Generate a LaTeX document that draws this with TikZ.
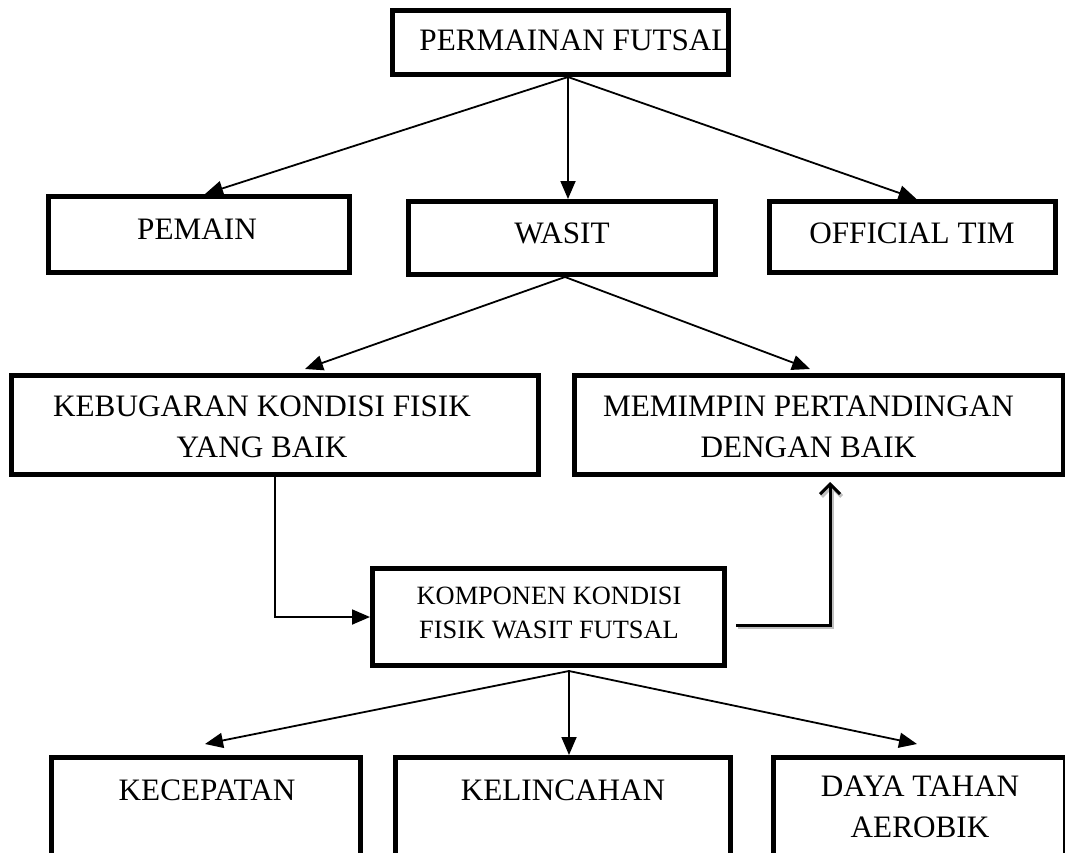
\documentclass[tikz,border=0pt]{standalone}
\usepackage{fontspec}
\setmainfont{Liberation Serif}
\usetikzlibrary{arrows.meta,calc}

\tikzset{
	kotak/.style={draw,line width=2.5pt,inner sep=0pt},
	teks/.style={align=center,inner sep=0pt,font=\fontsize{15.6}{20.5}\selectfont},
	panah/.style={line width=.9pt,-{Triangle[length=9pt,width=7.5pt]}},
	panahbuka/.style={line width=1.5pt,-{Straight Barb[length=5pt,width=10pt]},
		preaction={draw=black!25,line width=2pt,transform canvas={shift={(.8pt,-.8pt)}}}}
}

\begin{document}
\begin{tikzpicture}[x=.5pt,y=-.5pt]
		\useasboundingbox (0,0) rectangle (1065,852);
		\clip (0,0) rectangle (1065,852);
		% kotak: nama/x/y/lebar/tinggi
		\foreach \n/\x/\y/\w/\h in {futsal/560.5/42.5/336/64,pemain/199/234.5/301/76,wasit/562/238/307/73,official/912.5/237/286/71,bugar/275/425/527/99,pimpin/819/425/489/99,komp/548.5/617/352/97,kec/206/807/309/99,kel/563/807/335/99,daya/919.5/807/292/99}
			\node[kotak,minimum width=\w*.5pt,minimum height=\h*.5pt] (\n) at (\x,\y) {};
		\foreach \n/\x/\y/\t in {futsal/575/40/{PERMAINAN FUTSAL},pemain/197/229/PEMAIN,wasit/562/233/WASIT,official/912/233/{OFFICIAL TIM},bugar/262/426.5/{KEBUGARAN KONDISI FISIK\\YANG BAIK},pimpin/808.5/426.5/{MEMIMPIN PERTANDINGAN\\DENGAN BAIK},kec/207/790/KECEPATAN,kel/563/790/KELINCAHAN,daya/920/807/{DAYA TAHAN\\AEROBIK}}
			\node[teks] (\n-t) at (\x,\y) {\t};
		\node[teks,font=\fontsize{13.2}{17}\selectfont] (komp-t) at (549,613) {KOMPONEN KONDISI\\FISIK WASIT FUTSAL};
		% panah
		\path ($(futsal.south)+(7.5,0)$) coordinate (f0) ($(wasit.south)+(3,0)$) coordinate (w0) ($(komp.south)+(20.5,3)$) coordinate (k0);
		\draw[panah] (f0) -- ($(pemain.north)+(6,0)$);
		\draw[panah] (f0) -- (f0 |- wasit.north);
		\draw[panah] (f0) -- ($(official.north)+(4,0)$);
		\draw[panah] (w0) -- ($(bugar.north)+(30,-4)$);
		\draw[panah] (w0) -- ($(pimpin.north)+(-9,-4)$);
		\draw[panah] (bugar.south) |- (komp.west);
		\draw[panahbuka] ($(komp.east)+(9,8)$) -| ($(pimpin.south)+(11,5)$);
		\draw[panah] (k0) -- ($(kec.north)+(-1,-11)$);
		\draw[panah] (k0) -- (k0 |- kel.north);
		\draw[panah] (k0) -- ($(daya.north)+(-2.5,-11)$);
	\end{tikzpicture}
\end{document}
